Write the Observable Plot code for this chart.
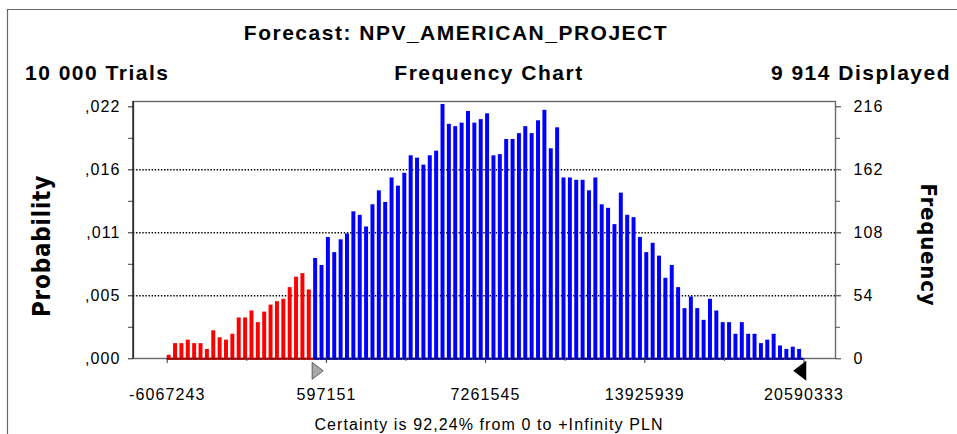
<!DOCTYPE html>
<html>
<head>
<meta charset="utf-8">
<script src="https://cdn.jsdelivr.net/npm/d3@7"></script>
<script src="https://cdn.jsdelivr.net/npm/@observablehq/plot@0.6"></script>
<style>
  html, body { margin: 0; padding: 0; background: #fff; }
  #chart { position: relative; width: 957px; height: 434px; overflow: hidden; }
  #chart svg text { letter-spacing: 1.1px; }
  #chart svg text.big { letter-spacing: 1.5px; }
  #chart svg text.side { letter-spacing: 0.8px; }
</style>
</head>
<body>
<div id="chart"></div>
<script>
// ---- data ----
const titleText = "Forecast: NPV_AMERICAN_PROJECT";
const trialsText = "10 000 Trials";
const chartTypeText = "Frequency Chart";
const displayedText = "9 914 Displayed";
const certaintyText = "Certainty is 92,24% from 0 to +Infinity PLN";
const leftAxisTitle = "Probability";
const rightAxisTitle = "Frequency";

const rangeMin = -6067243;
const rangeMax = 20590333;
const certaintyFrom = 0;

const frequencies = [
  3,13,13,16,13,13,8,24,18,16,21,35,35,41,31,40,46,49,51,61,70,73,59,
  86,80,104,91,102,107,126,123,113,
  132,144,134,155,148,159,174,172,166,174,178,218,201,199,202,212,202,205,210,
  174,175,188,188,193,199,193,204,213,180,198,155,155,153,153,144,155,
  132,129,115,142,123,121,104,91,99,88,69,80,61,43,53,43,33,51,41,31,31,21,31,21,21,13,16,21,11,8,10,8
];

const xTickValues = [-6067243, 597151, 7261545, 13925939, 20590333];
const xTickLabels = ["-6067243", "597151", "7261545", "13925939", "20590333"];
const freqTickValues = [0, 54, 108, 162, 216];
const freqTickLabels = ["0", "54", "108", "162", "216"];
const probTickLabels = [",000", ",005", ",011", ",016", ",022"];
const gridValues = [54, 108, 162];

const inColor = "#ff0000", outColor = "#0000ff";
const inBase = "#a00000", outBase = "#000090";

// ---- derived ----
const nBins = frequencies.length;
const binW = (rangeMax - rangeMin) / nBins;
const bins = frequencies.map((f, i) => ({
  x0: rangeMin + i * binW,
  x1: rangeMin + (i + 1) * binW,
  freq: f
}));
const minorX = d3.pairs(xTickValues).map(([a, b]) => (a + b) / 2);
const minorY = d3.pairs(freqTickValues).map(([a, b]) => (a + b) / 2);
const probMap = new Map(freqTickValues.map((v, i) => [v, probTickLabels[i]]));
const freqMap = new Map(freqTickValues.map((v, i) => [v, freqTickLabels[i]]));
const xMap = new Map(xTickValues.map((v, i) => [v, xTickLabels[i]]));

const rightTri = { draw(ctx, size) { const r = Math.sqrt(size / Math.PI); ctx.moveTo(0, -r); ctx.lineTo(1.3 * r, 0); ctx.lineTo(0, r); ctx.closePath(); } };
const leftTri = { draw(ctx, size) { const r = Math.sqrt(size / Math.PI); ctx.moveTo(0, -r); ctx.lineTo(-1.3 * r, 0); ctx.lineTo(0, r); ctx.closePath(); } };

const plot = Plot.plot({
  width: 957,
  height: 434,
  marginLeft: 133,
  marginRight: 122,
  marginTop: 101,
  marginBottom: 76,
  style: { fontFamily: "'Liberation Sans', Arial, sans-serif", fontSize: "16px", background: "#fff", color: "#000", overflow: "visible" },
  x: { domain: [rangeMin, rangeMax], range: [166.7, 803.5], label: null },
  y: { domain: [0, 216], range: [358.3, 106.3], label: null },
  color: { type: "identity" },
  marks: [
    Plot.ruleY(gridValues, { stroke: "#000", strokeWidth: 1.4, strokeDasharray: "1.4,1.7" }),
    Plot.rect(bins, { x1: "x0", x2: "x1", y1: 0, y2: "freq", insetRight: 2.4, fill: d => d.x0 < certaintyFrom ? inColor : outColor }),
    Plot.frame({ stroke: "#6a6a6a", strokeWidth: 1.4 }),
    Plot.ruleY(bins, { x1: "x0", x2: "x1", y: 0, strokeWidth: 2.2, stroke: d => d.x0 < certaintyFrom ? inBase : outBase }),
    Plot.axisY(freqTickValues, { anchor: "left", label: null, tickSize: 5, tickPadding: 8, tickFormat: d => probMap.get(d), stroke: "#222" }),
    Plot.axisY(minorY, { anchor: "left", label: null, tickSize: 5, tickFormat: () => "", stroke: "#444" }),
    Plot.axisY(freqTickValues, { anchor: "right", label: null, tickSize: 5, tickPadding: 13, tickFormat: d => freqMap.get(d), stroke: "#333" }),
    Plot.axisY(minorY, { anchor: "right", label: null, tickSize: 4, tickFormat: () => "", stroke: "#555" }),
    Plot.axisX(xTickValues, { label: null, tickSize: 5, tickPadding: 25, tickFormat: d => xMap.get(d), stroke: "#333" }),
    Plot.axisX(minorX, { label: null, tickSize: 3, tickFormat: () => "", stroke: "#555" }),
    Plot.dot([certaintyFrom], { x: d => d, y: 0, dy: 12, r: 8.5, symbol: rightTri, fill: "#a8a8a8", stroke: "#444", strokeWidth: 0.8 }),
    Plot.dot([rangeMax], { x: d => d, y: 0, dy: 12, dx: 1.5, r: 8.5, symbol: leftTri, fill: "#000", stroke: "#000" })
  ]
});

document.getElementById("chart").appendChild(plot);

// left axis line (dark) and outer page frame, titles
const svg = d3.select(plot);
svg.append("path").attr("d", "M7.5,434V9.5H957").attr("fill", "none").attr("stroke", "#666").attr("stroke-width", 1.2);
svg.append("line").attr("x1", 133).attr("x2", 133).attr("y1", 101).attr("y2", 358.5).attr("stroke", "#111").attr("stroke-width", 1.3);

const bold = "'Liberation Sans', Arial, sans-serif";
function addText(txt, x, y, anchor, size, weight, cls) {
  return svg.append("text").attr("class", cls || "").attr("x", x).attr("y", y).attr("text-anchor", anchor)
    .attr("font-size", size).attr("font-weight", weight).attr("font-family", bold).attr("fill", "#000").text(txt);
}
addText(titleText, 456, 40, "middle", 21, "bold", "big");
addText(trialsText, 25, 80, "start", 21, "bold", "big");
addText(chartTypeText, 489, 80, "middle", 21, "bold", "big");
addText(displayedText, 951, 80, "end", 21, "bold", "big");
addText(certaintyText, 489, 430, "middle", 16, "normal");

const sideFont = "'DejaVu Sans Condensed', 'DejaVu Sans', sans-serif";
svg.append("text").attr("class", "side").attr("transform", "translate(50,246) rotate(-90)")
  .attr("text-anchor", "middle").attr("font-family", sideFont).attr("font-weight", "bold")
  .attr("font-size", 24).attr("fill", "#000").text(leftAxisTitle);
svg.append("text").attr("class", "side").attr("transform", "translate(921,245) rotate(90)")
  .attr("text-anchor", "middle").attr("font-family", sideFont).attr("font-weight", "bold")
  .attr("font-size", 22).attr("fill", "#000").text(rightAxisTitle);
</script>
</body>
</html>
